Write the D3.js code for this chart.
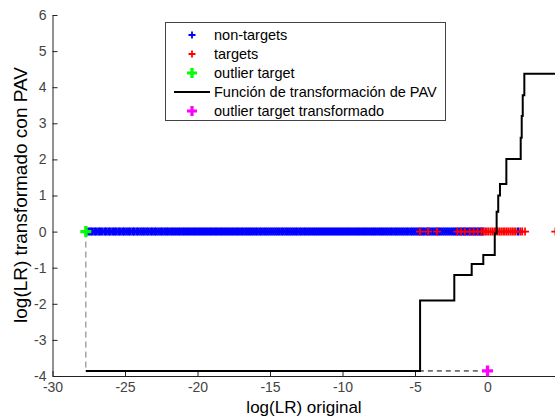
<!DOCTYPE html>
<html>
<head>
<meta charset="utf-8">
<script src="https://cdn.jsdelivr.net/npm/d3@7"></script>
<style>
  html, body { margin: 0; padding: 0; background: #fff; }
  svg { display: block; font-family: "Liberation Sans", Arial, sans-serif; }
  .tick text { fill: #444; font-size: 14px; }
</style>
</head>
<body>
<svg id="chart" width="555" height="419"></svg>
<script>
// tick values
var xTicks = [-30, -25, -20, -15, -10, -5, 0];
var yTicks = [-4, -3, -2, -1, 0, 1, 2, 3, 4, 5, 6];

// scores (log LR) of non-target trials, all plotted at y = 0
var nonTargets = [-27.52,-27.38,-27.27,-27.11,-26.99,-26.83,-26.72,-26.58,-26.41,-26.3,-26.14,-26.02,-25.86,-25.74,-25.61,-25.45,-25.33,-25.17,-25.05,-24.9,
  -24.76,-24.63,-24.47,-24.36,-24.2,-24.08,-23.93,-23.79,-23.66,-23.51,-23.38,-23.22,-23.1,-22.95,-22.83,-22.68,-22.53,-22.41,-22.26,-22.12,
  -21.99,-21.84,-21.71,-21.57,-21.43,-21.29,-21.16,-21.01,-20.88,-20.73,-20.6,-20.46,-20.31,-20.19,-20.04,-19.9,-19.76,-19.63,-19.48,-19.35,
  -19.2,-19.07,-18.93,-18.78,-18.66,-18.51,-18.37,-18.24,-18.09,-17.96,-17.82,-17.67,-17.55,-17.4,-17.26,-17.13,-16.98,-16.85,-16.7,-16.57,
  -16.43,-16.29,-16.15,-16.01,-15.88,-15.73,-15.6,-15.45,-15.32,-15.18,-15.04,-14.9,-14.76,-14.62,-14.48,-14.35,-14.2,-14.07,-13.92,-13.79,
  -13.65,-13.51,-13.37,-13.23,-13.1,-12.95,-12.82,-12.67,-12.54,-12.4,-12.26,-12.12,-11.98,-11.84,-11.7,-11.57,-11.42,-11.29,-11.14,-11.01,
  -10.87,-10.73,-10.59,-10.45,-10.31,-10.18,-10.03,-9.9,-9.75,-9.62,-9.48,-9.34,-9.2,-9.06,-8.92,-8.79,-8.64,-8.51,-8.37,-8.23,
  -8.09,-7.95,-7.81,-7.68,-7.53,-7.4,-7.26,-7.12,-6.98,-6.84,-6.7,-6.57,-6.42,-6.29,-6.15,-6.01,-5.87,-5.73,-5.59,-5.46,
  -5.31,-5.18,-5.04,-4.9,-4.76,-4.62,-4.48,-4.35,-4.2,-4.07,-3.93,-3.79,-3.65,-3.51,-3.37,-3.24,-3.1,-2.96,-2.82,-2.68,
  -2.54,-2.4,-2.26,-2.13,-1.99,-1.85,-1.71,-1.57,-1.43,-1.29,-1.16,-1.02,-0.88,-0.74,-0.6,-0.46,-0.33,2.12];

// scores of target trials, also at y = 0
var targets = [-4.66,-4.1,-3.48,-2.08,-1.82,-1.57,-1.22,-0.95,-0.68,-0.42,-0.27,-0.16,-0.04,0.08,0.21,0.33,0.46,0.58,0.71,0.83,
  0.95,1.08,1.2,1.33,1.45,1.58,1.7,1.83,1.95,2.28,2.4,2.59,4.68];

var outlierTarget = [-27.7, 0];
var outlierTransformed = [0, -3.86];

// PAV step function: level pavY[i] starts at pavX[i]
var pavX = [-27.7, -4.65, -2.29, -1.09, -0.29, 0.5, 0.63, 0.74, 0.86, 1.3, 2.29, 2.36, 2.43, 2.54, 5];
var pavY = [-3.86, -1.91, -1.2, -0.9, -0.65, -0.05, 0.55, 1.0, 1.32, 2.01, 2.6, 3.2, 3.78, 4.37, 4.37];

var legendLabels = ["non-targets", "targets", "outlier target", "Función de transformación de PAV", "outlier target transformado"];

var svg = d3.select("#chart");

var x = d3.scaleLinear().domain([-30, 5]).range([52.5, 560]);
var y = d3.scaleLinear().domain([-4, 6]).range([376, 15]);

	// plus marker path
function plus(r) {
	return "M" + (-r) + ",0H" + r + "M0," + (-r) + "V" + r;
}

	//axes (plain hyphen for negative numbers, like the original)
svg.append("g")
	.attr("transform", "translate(0,376)")
	.call(d3.axisBottom(x).tickValues(xTicks).tickFormat(String).tickSizeInner(-5).tickSizeOuter(0).tickPadding(6))
	.call(function(g) { g.selectAll("path, line").attr("stroke", "#222"); });

svg.append("g")
	.attr("transform", "translate(52.5,0)")
	.call(d3.axisLeft(y).tickValues(yTicks).tickFormat(String).tickSizeInner(-5).tickSizeOuter(0).tickPadding(6))
	.call(function(g) { g.selectAll("path, line").attr("stroke", "#222"); });

	//dashed guides from the outlier to its transformed value
svg.append("line")
	.attr("x1", x(outlierTarget[0])).attr("x2", x(outlierTarget[0]))
	.attr("y1", y(outlierTarget[1])).attr("y2", y(outlierTransformed[1]))
	.attr("stroke", "#777").attr("stroke-dasharray", "6,4");

svg.append("line")
	.attr("x1", x(outlierTarget[0])).attr("x2", x(outlierTransformed[0]))
	.attr("y1", y(outlierTransformed[1])).attr("y2", y(outlierTransformed[1]))
	.attr("stroke", "#000").attr("stroke-dasharray", "5,4");

	//scores
svg.append("g").selectAll("path")
	.data(nonTargets)
	.enter().append("path")
	.attr("transform", function(d) { return "translate(" + x(d) + "," + y(0) + ")"; })
	.attr("d", plus(4))
	.attr("stroke", "#0000ff").attr("stroke-width", 2.5);

svg.append("g").selectAll("path")
	.data(targets)
	.enter().append("path")
	.attr("transform", function(d) { return "translate(" + x(d) + "," + y(0) + ")"; })
	.attr("d", plus(4))
	.attr("stroke", "#ff0000").attr("stroke-width", 1.7);

	//PAV function
var pav = pavX.map(function(d, i) { return [d, pavY[i]]; });
svg.append("path")
	.datum(pav)
	.attr("d", d3.line().x(function(d) { return x(d[0]); }).y(function(d) { return y(d[1]); }).curve(d3.curveStepAfter))
	.attr("fill", "none").attr("stroke", "#000").attr("stroke-width", 2);

svg.append("path")
	.attr("transform", "translate(" + x(outlierTarget[0]) + "," + y(outlierTarget[1]) + ")")
	.attr("d", plus(5.5)).attr("stroke", "#00ff00").attr("stroke-width", 3.3);

svg.append("path")
	.attr("transform", "translate(" + x(outlierTransformed[0]) + "," + y(outlierTransformed[1]) + ")")
	.attr("d", plus(5.5)).attr("stroke", "#ff00ff").attr("stroke-width", 3.3);

	//axis labels
svg.append("text")
	.attr("x", 304).attr("y", 413)
	.attr("text-anchor", "middle").attr("font-size", 17).attr("fill", "#000")
	.text("log(LR) original");

svg.append("text")
	.attr("transform", "translate(27,195) rotate(-90)")
	.attr("text-anchor", "middle").attr("font-size", 19).attr("fill", "#000")
	.text("log(LR) transformado con PAV");

	//legend
var legend = svg.append("g");
legend.append("rect")
	.attr("x", 165.5).attr("y", 22.5).attr("width", 280).attr("height", 98)
	.attr("fill", "#fff").attr("stroke", "#444");

var legendRows = legend.selectAll("g.row")
	.data(legendLabels)
	.enter().append("g")
	.attr("class", "row")
	.attr("transform", function(d, i) { return "translate(0," + (35 + i * 19) + ")"; });

legendRows.append("text")
	.attr("x", 214).attr("dy", "0.35em")
	.attr("font-size", 14.5).attr("fill", "#000")
	.text(function(d) { return d; });

var legendColors = ["#0000ff", "#ff0000", "#00ff00", null, "#ff00ff"];
legendRows.each(function(d, i) {
	var row = d3.select(this);
	if (i == 3) {
		row.append("line").attr("x1", 174).attr("x2", 210)
			.attr("stroke", "#000").attr("stroke-width", 2);
	} else {
		var big = (i == 2 || i == 4);
		row.append("path")
			.attr("transform", "translate(192,0)")
			.attr("d", plus(big ? 5 : 3.5))
			.attr("stroke", legendColors[i]).attr("stroke-width", big ? 3.2 : 1.8);
	}
});
</script>
</body>
</html>
